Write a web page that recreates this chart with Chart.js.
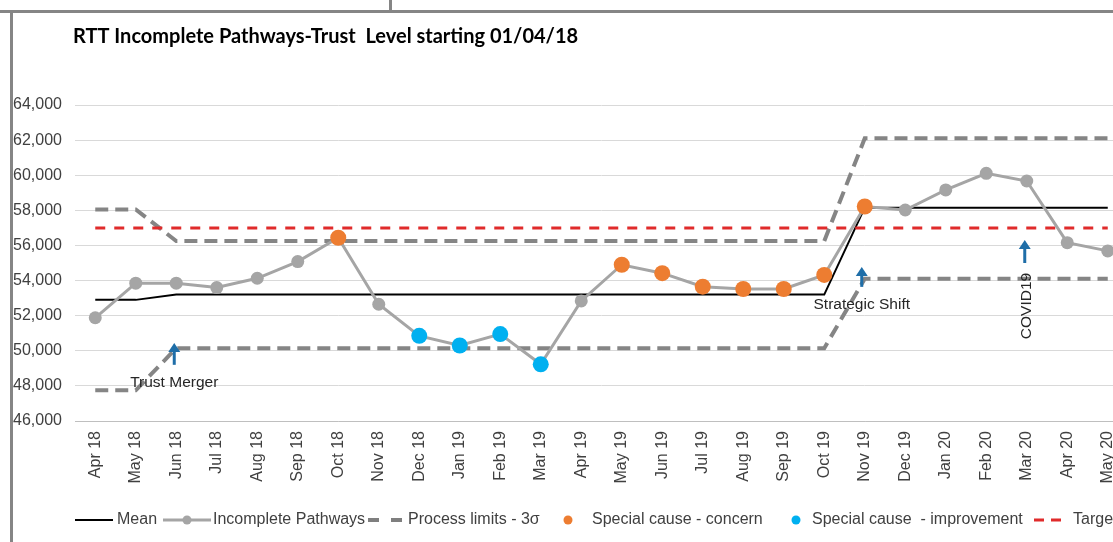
<!DOCTYPE html>
<html>
<head>
<meta charset="utf-8">
<title>RTT Incomplete Pathways</title>
<script src="https://cdn.jsdelivr.net/npm/chart.js@4.4.1/dist/chart.umd.min.js"></script>
<style>
    html, body { margin: 0; padding: 0; background: #fff; overflow: hidden; }
    #wrap { position: relative; width: 1113px; height: 542px; overflow: hidden; }
    #myChart { position: absolute; left: 0; top: 0; }
</style>
</head>
<body>
<div id="wrap"><canvas id="myChart" width="1240" height="542"></canvas></div>
<script>
// months on the x axis
var months = ['Apr 18', 'May 18', 'Jun 18', 'Jul 18', 'Aug 18', 'Sep 18', 'Oct 18', 'Nov 18', 'Dec 18', 'Jan 19', 'Feb 19', 'Mar 19',
    'Apr 19', 'May 19', 'Jun 19', 'Jul 19', 'Aug 19', 'Sep 19', 'Oct 19', 'Nov 19', 'Dec 19', 'Jan 20', 'Feb 20', 'Mar 20',
    'Apr 20', 'May 20'];

var pathways = [51880, 53850, 53850, 53600, 54130, 55080, 56440, 52650, 50850, 50300, 50950, 49230,
    52840, 54900, 54420, 53650, 53520, 53520, 54320, 58220, 58020, 59160, 60110, 59670,
    56160, 55690];

var mean = [52900, 52900, 53200, 53200, 53200, 53200, 53200, 53200, 53200, 53200, 53200, 53200,
    53200, 53200, 53200, 53200, 53200, 53200, 53200, 58150, 58150, 58150, 58150, 58150,
    58150, 58150];

var upperLimit = [58050, 58050, 56250, 56250, 56250, 56250, 56250, 56250, 56250, 56250, 56250, 56250,
    56250, 56250, 56250, 56250, 56250, 56250, 56250, 62100, 62100, 62100, 62100, 62100,
    62100, 62100];

var lowerLimit = [47750, 47750, 50150, 50150, 50150, 50150, 50150, 50150, 50150, 50150, 50150, 50150,
    50150, 50150, 50150, 50150, 50150, 50150, 50150, 54100, 54100, 54100, 54100, 54100,
    54100, 54100];

var target = [57000, 57000, 57000, 57000, 57000, 57000, 57000, 57000, 57000, 57000, 57000, 57000,
    57000, 57000, 57000, 57000, 57000, 57000, 57000, 57000, 57000, 57000, 57000, 57000,
    57000, 57000];

// C = special cause concern, I = special cause improvement
var special = ['', '', '', '', '', '', 'C', '', 'I', 'I', 'I', 'I',
    '', 'C', 'C', 'C', 'C', 'C', 'C', 'C', '', '', '', '',
    '', ''];

var notes = [
    { text: 'Trust Merger', at: 2, value: 48170, arrowFrom: 49200, arrowTo: 50450, dx: -2 },
    { text: 'Strategic Shift', at: 19, value: 52610, arrowFrom: 53640, arrowTo: 54770, dx: -3 },
    { text: 'COVID19', at: 23, value: 52550, arrowFrom: 55000, arrowTo: 56310, dx: -2, vertical: true }
];

var concern = pathways.map(function (v, i) { return special[i] === 'C' ? v : null; });
var improvement = pathways.map(function (v, i) { return special[i] === 'I' ? v : null; });

var textColor = '#404040';
var sans = '"Liberation Sans", Arial, sans-serif';
Chart.defaults.font.family = sans;
Chart.defaults.font.size = 16;
Chart.defaults.color = textColor;

var extras = {
    id: 'extras',
    afterDatasetsDraw: function (chart) {
        var ctx = chart.ctx;
        var xs = chart.scales.x, ys = chart.scales.y;
        ctx.save();
        notes.forEach(function (n) {
            var x = xs.getPixelForValue(n.at) + n.dx;
            // arrow
            var y0 = ys.getPixelForValue(n.arrowFrom);
            var y1 = ys.getPixelForValue(n.arrowTo);
            ctx.strokeStyle = '#1f6ea8';
            ctx.fillStyle = '#1f6ea8';
            ctx.lineWidth = 3;
            ctx.beginPath();
            ctx.moveTo(x, y0);
            ctx.lineTo(x, y1 + 6);
            ctx.stroke();
            ctx.beginPath();
            ctx.moveTo(x, y1);
            ctx.lineTo(x - 6, y1 + 9);
            ctx.lineTo(x + 6, y1 + 9);
            ctx.closePath();
            ctx.fill();
            // label
            var ty = ys.getPixelForValue(n.value);
            ctx.fillStyle = '#262626';
            ctx.font = '15.5px ' + sans;
            ctx.textAlign = 'center';
            ctx.textBaseline = 'middle';
            if (n.vertical) {
                ctx.save();
                ctx.translate(x + 2, ty);
                ctx.rotate(-Math.PI / 2);
                ctx.fillText(n.text, 0, 0);
                ctx.restore();
            } else {
                ctx.fillText(n.text, x, ty);
            }
        });
        ctx.restore();
    },
    afterDraw: function (chart) {
        var ctx = chart.ctx;
        ctx.save();
        // frame around the picture
        ctx.strokeStyle = '#858585';
        ctx.lineWidth = 3;
        ctx.beginPath();
        ctx.moveTo(0, 11.5);
        ctx.lineTo(chart.width, 11.5);
        ctx.moveTo(11.5, 11.5);
        ctx.lineTo(11.5, chart.height);
        ctx.moveTo(390.5, 0);
        ctx.lineTo(390.5, 11.5);
        ctx.stroke();

        // title
        ctx.fillStyle = '#000';
        ctx.font = 'bold 20px Lato, "Open Sans", sans-serif';
        ctx.textAlign = 'left';
        ctx.textBaseline = 'middle';
        ctx.fillText('RTT Incomplete Pathways-Trust  Level starting 01/04/18', 73, 37);

        // legend
        var ly = 520;
        ctx.font = '16px ' + sans;
        var items = [
            { kind: 'line', x0: 75, x1: 113, color: '#000', width: 2, dash: [], text: 'Mean', tx: 117 },
            { kind: 'linepoint', x0: 163, x1: 211, color: '#a5a5a5', width: 3, dash: [], text: 'Incomplete Pathways', tx: 213 },
            { kind: 'line', x0: 368, x1: 402, color: '#7f7f7f', width: 4, dash: [11, 12], text: 'Process limits - 3\u03c3', tx: 408 },
            { kind: 'dot', x0: 568, color: '#ed7d31', text: 'Special cause - concern', tx: 592 },
            { kind: 'dot', x0: 796, color: '#00b0f0', text: 'Special cause  - improvement', tx: 812 },
            { kind: 'line', x0: 1034, x1: 1062, color: '#e02b2b', width: 3, dash: [10, 7], text: 'Target', tx: 1073 }
        ];
        items.forEach(function (it) {
            if (it.kind === 'dot') {
                ctx.fillStyle = it.color;
                ctx.beginPath();
                ctx.arc(it.x0, ly, 4.5, 0, Math.PI * 2);
                ctx.fill();
            } else {
                ctx.strokeStyle = it.color;
                ctx.lineWidth = it.width;
                ctx.setLineDash(it.dash);
                ctx.beginPath();
                ctx.moveTo(it.x0, ly);
                ctx.lineTo(it.x1, ly);
                ctx.stroke();
                ctx.setLineDash([]);
                if (it.kind === 'linepoint') {
                    ctx.fillStyle = it.color;
                    ctx.beginPath();
                    ctx.arc((it.x0 + it.x1) / 2, ly, 4.5, 0, Math.PI * 2);
                    ctx.fill();
                }
            }
            ctx.fillStyle = textColor;
            ctx.fillText(it.text, it.tx, ly);
        });
        ctx.restore();
    }
};

const ctx = document.getElementById('myChart').getContext('2d');
const myChart = new Chart(ctx, {
    type: 'line',
    data: {
        labels: months,
        datasets: [{
            label: 'Special cause - concern',
            data: concern,
            showLine: false,
            pointRadius: 8,
            pointBackgroundColor: '#ed7d31',
            pointBorderWidth: 0
        }, {
            label: 'Special cause - improvement',
            data: improvement,
            showLine: false,
            pointRadius: 8,
            pointBackgroundColor: '#00b0f0',
            pointBorderWidth: 0
        }, {
            label: 'Incomplete Pathways',
            data: pathways,
            borderColor: '#a5a5a5',
            borderWidth: 3,
            pointRadius: 6.5,
            pointBackgroundColor: '#a5a5a5',
            pointBorderWidth: 0
        }, {
            label: 'Target',
            data: target,
            borderColor: '#e02b2b',
            borderWidth: 3,
            borderDash: [10, 9],
            pointRadius: 0
        }, {
            label: 'Mean',
            data: mean,
            borderColor: '#000',
            borderWidth: 2,
            pointRadius: 0
        }, {
            label: 'Process limits - 3\u03c3',
            data: upperLimit,
            borderColor: '#858585',
            borderWidth: 4,
            borderDash: [13, 7],
            pointRadius: 0
        }, {
            label: 'Lower limit',
            data: lowerLimit,
            borderColor: '#858585',
            borderWidth: 4,
            borderDash: [13, 7],
            pointRadius: 0
        }]
    },
    options: {
        responsive: false,
        animation: false,
        layout: {
            padding: { top: 105, bottom: 50, left: 0, right: 112 }
        },
        plugins: {
            legend: { display: false },
            title: { display: false },
            tooltip: { enabled: false }
        },
        scales: {
            x: {
                offset: true,
                grid: { display: false, drawTicks: false },
                border: { color: '#bfbfbf', width: 1 },
                ticks: { minRotation: 90, maxRotation: 90, padding: 10, autoSkip: false, color: textColor },
                afterFit: function (scale) { scale.height = 71; }
            },
            y: {
                min: 46000,
                max: 64000,
                grid: { color: '#d9d9d9', drawTicks: false },
                border: { display: false },
                ticks: {
                    stepSize: 2000,
                    padding: 13,
                    color: textColor,
                    callback: function (v) { return v.toLocaleString('en-GB'); }
                },
                afterFit: function (scale) { scale.width = 75; }
            }
        }
    },
    plugins: [extras]
});
</script>
</body>
</html>
